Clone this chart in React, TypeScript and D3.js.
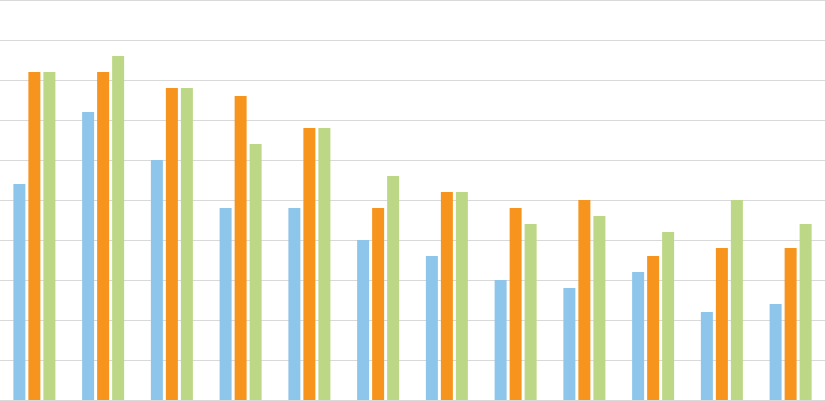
import React from 'react';
import * as d3 from 'd3';

const categories = ['C1', 'C2', 'C3', 'C4', 'C5', 'C6', 'C7', 'C8', 'C9', 'C10', 'C11', 'C12'];
const seriesNames = ['A', 'B', 'C'];
const seriesA = [54, 72, 60, 48, 48, 40, 36, 30, 28, 32, 22, 24];
const seriesB = [82, 82, 78, 76, 68, 48, 52, 48, 50, 36, 38, 38];
const seriesC = [82, 86, 78, 64, 68, 56, 52, 44, 46, 42, 50, 44];
const gridTicks = [0, 10, 20, 30, 40, 50, 60, 70, 80, 90, 100];
const colors = ['#8EC5EA', '#F7941E', '#BCD886'];

export default function App() {
  const width = 825;
  const height = 401;
  const values = [seriesA, seriesB, seriesC];

  const x0 = d3.scaleBand<string>().domain(categories).range([0, width]).padding(0);
  const half = 21;
  const y = d3.scaleLinear().domain([0, 100]).range([400, 0]);

  return (
    <div style={{ position: 'fixed', left: 0, top: 0 }}>
      <svg width={width} height={height} style={{ display: 'block', background: '#fff' }}>
        {gridTicks.map(t => (
          <line
            key={t}
            x1={0}
            x2={width}
            y1={y(t) + 0.5}
            y2={y(t) + 0.5}
            stroke="#D9D9D9"
            strokeWidth={1}
          />
        ))}
        {categories.map((c, i) => {
          const cx = (x0(c) || 0) + x0.bandwidth() / 2;
          const x1 = d3.scaleBand<string>()
            .domain(seriesNames)
            .range([cx - half, cx + half])
            .paddingInner(0.2);
          return (
            <g key={c}>
              {seriesNames.map((s, j) => (
                <rect
                  key={s}
                  x={x1(s) || 0}
                  y={y(values[j][i])}
                  width={x1.bandwidth()}
                  height={y(0) - y(values[j][i])}
                  fill={colors[j]}
                />
              ))}
            </g>
          );
        })}
      </svg>
    </div>
  );
}
